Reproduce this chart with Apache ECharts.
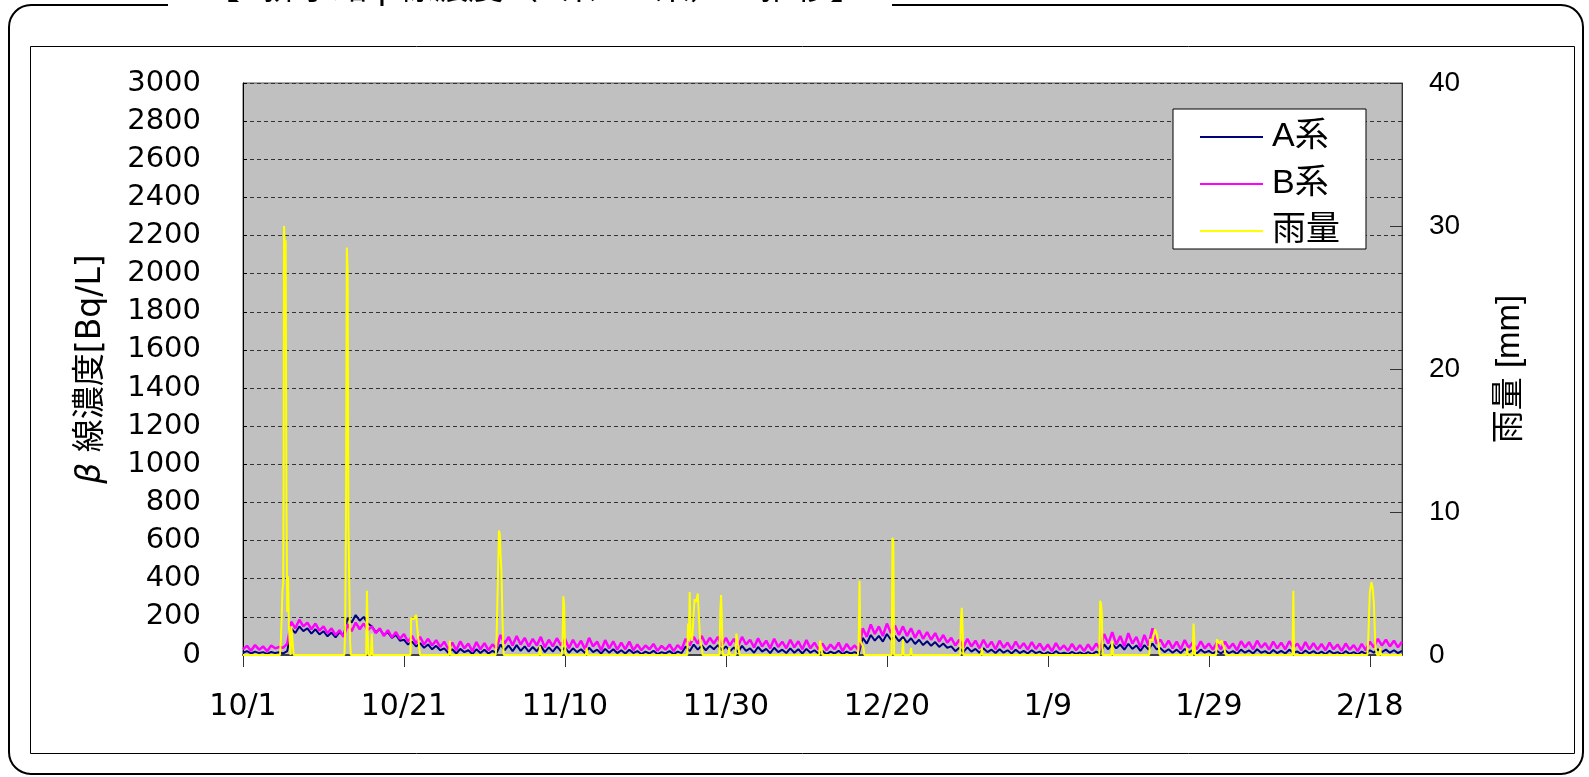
<!DOCTYPE html>
<html>
<head>
<meta charset="utf-8">
<script src="https://cdn.jsdelivr.net/npm/echarts@6/dist/echarts.min.js"></script>
<style>
  html, body { margin: 0; padding: 0; background: #ffffff; }
  #chart { width: 1589px; height: 777px; }
</style>
</head>
<body>
<div id="chart"></div>
<script>
// Day offsets of the x tick labels (days since 10/1) and their text
const tickDays = [0, 20, 40, 60, 80, 100, 120, 140];
const tickLabels = ['10/1', '10/21', '11/10', '11/30', '12/20', '1/9', '1/29', '2/18'];

// Monitor readings every half day from 10/1, Bq/L
const STEP = 0.5;
const seriesA = [
  12, 20, 8, 18, 10, 15, 6, 16, 10, 14,
  8, 20,
  140, 115,
  150, 125, 140, 112, 135, 108, 125, 98, 118, 92,
  120, 100,
  195, 170, 210, 180, 200, 165,
  150, 120, 135, 105, 120, 90, 105, 75,
  80, 55, 70, 45, 62, 38, 55, 30, 48, 25,
  35, 12, 30, 8, 32, 15, 25, 5, 30, 10, 28, 8, 22, 10,
  55, 25, 50, 20, 52, 22, 45, 18, 42, 20, 48, 15, 40, 18, 45, 20,
  40, 12, 35, 15, 30, 10, 38, 15, 28, 8, 32, 12, 30, 10, 25, 8, 28, 10,
  20, 5, 18, 8, 22, 5, 15, 8, 20, 5, 18, 10,
  45, 20, 55, 28, 50, 25, 48, 30, 52, 25,
  45, 20, 40, 15, 48, 22, 35, 12, 42, 18, 32, 10, 38, 15, 28, 10, 35, 12, 30, 8, 32, 12, 25, 8,
  20, 5, 18, 8, 22, 5, 18, 8, 15, 5,
  90, 60, 105, 75, 100, 70,
  110, 80, 100, 72, 95, 65, 88, 58, 80, 52, 72, 48, 68, 42, 60, 38,
  45, 20, 38, 15, 40, 18, 32, 12, 35, 15, 28, 10, 30, 12, 25, 8, 28, 10, 22, 8, 25, 10,
  18, 5, 15, 4, 20, 6, 12, 5, 16, 6, 14, 4, 15, 5, 18, 8,
  55, 30, 60, 35, 55, 28, 58, 32, 50, 22, 52, 28, 60, 30,
  35, 15, 30, 12, 28, 10, 32, 14, 25, 8, 28, 12, 22, 8,
  22, 8, 25, 10, 20, 6, 28, 12, 24, 8, 30, 12, 20, 6, 26, 10, 22, 8, 28, 12,
  18, 5, 24, 8, 20, 6, 18, 5, 22, 8, 15, 4, 20, 6, 15, 4, 18, 6,
  25, 12, 30, 15, 28, 12, 25, 10, 22
];
const seriesB = [
  30, 48, 22, 52, 28, 45, 20, 50, 35, 42,
  38, 60,
  175, 140,
  185, 150, 170, 135, 165, 128, 150, 115, 140, 105,
  130, 95,
  160, 125, 170, 135, 165, 130,
  150, 115, 140, 100, 130, 92, 120, 85,
  110, 70, 100, 60, 95, 55, 85, 50, 78, 42,
  70, 30, 65, 25, 72, 35, 60, 20, 68, 30, 62, 25, 55, 35,
  105, 60, 95, 50, 100, 55, 90, 45, 85, 50, 95, 40, 80, 45, 88, 50,
  85, 35, 80, 40, 75, 30, 90, 45, 70, 25, 78, 35, 72, 28, 65, 30, 70, 25,
  55, 25, 50, 30, 58, 22, 48, 28, 55, 20, 52, 30,
  85, 50, 95, 60, 100, 55, 90, 60, 95, 50,
  90, 50, 85, 45, 95, 55, 80, 40, 88, 45, 75, 35, 85, 42, 70, 35, 80, 40, 72, 30, 78, 35, 65, 30,
  60, 25, 55, 30, 65, 20, 58, 28, 50, 25,
  140, 95, 160, 110, 150, 100,
  165, 115, 155, 105, 150, 100, 140, 90, 130, 85, 120, 80, 115, 70, 105, 65,
  90, 50, 80, 40, 85, 45, 75, 35, 80, 40, 70, 30, 75, 38, 65, 30, 70, 35, 62, 28, 68, 32,
  60, 25, 55, 20, 62, 28, 50, 22, 58, 25, 52, 20, 55, 25, 60, 30,
  110, 60, 120, 55, 100, 45, 115, 60, 95, 40, 105, 50, 140, 60,
  80, 40, 75, 35, 70, 30, 78, 38, 65, 30, 72, 35, 60, 28,
  65, 30, 70, 35, 60, 25, 72, 40, 68, 30, 75, 38, 62, 28, 70, 35, 65, 30, 72, 38,
  60, 25, 68, 30, 62, 28, 58, 25, 65, 30, 55, 22, 60, 28, 52, 20, 58, 25,
  70, 40, 85, 50, 80, 45, 75, 40, 70
];

// Rainfall (mm): day since 10/1 and amount
const rainDay = [
  0, 4.6, 4.7, 4.8, 4.9, 5.0, 5.05, 5.1, 5.2, 5.3, 5.4, 5.5, 5.6, 5.7, 5.8, 5.9, 6.0, 6.2, 6.3,
  12.6, 12.7, 12.8, 12.9, 13.0, 13.1, 13.2, 13.3, 13.4,
  15.3, 15.4, 15.5, 15.6, 15.9, 16.0, 16.1,
  20.8, 20.9, 21.2, 21.5, 21.8, 22.0,
  25.6, 25.7, 25.8,
  31.4, 31.5, 31.7, 31.8, 31.9, 32.0, 32.1, 32.2, 32.3, 32.4,
  36.8, 36.9, 37.0,
  39.6, 39.7, 39.8, 39.9, 40.0, 40.1,
  42.6, 42.7, 42.8,
  55.2, 55.3, 55.4, 55.5, 55.6, 55.8, 56.0, 56.1, 56.3, 56.5, 56.7, 56.8, 57.0, 57.1,
  59.2, 59.3, 59.4, 59.5, 59.6,
  60.3, 60.4, 60.5,
  61.2, 61.3, 61.5, 61.7,
  71.6, 71.7, 71.9, 72.0,
  76.4, 76.5, 76.6, 76.7, 76.9, 77.1, 77.2,
  80.6, 80.7, 80.8, 80.9,
  81.9, 82.0, 82.1,
  82.9, 83.0, 83.1,
  89.1, 89.2, 89.3, 89.4, 89.5,
  91.7, 91.8, 91.9,
  106.4, 106.5, 106.6, 106.7, 106.8,
  107.9, 108.0, 108.1,
  112.6, 112.7, 113.0, 113.3, 113.5, 113.7, 113.9,
  117.2, 117.3, 117.4, 118.0, 118.1, 118.2, 118.3,
  120.9, 121.0, 121.3, 121.6, 121.9, 122.1,
  130.4, 130.5, 130.6,
  139.7, 139.8, 140.0, 140.2, 140.35, 140.5, 140.7, 140.9,
  141.2, 141.3, 141.4,
  144
];
const rainMm = [
  0, 0, 1, 2.5, 4.5, 5, 12, 30, 28.5, 29, 10, 3, 5.5, 2, 1, 0, 2, 2, 0,
  0, 2, 10, 28.5, 27, 9, 5, 1, 0,
  0, 4.5, 1.5, 0, 0, 1.5, 0,
  0, 2.6, 2.5, 2.8, 1, 0,
  0, 1, 0,
  0, 1, 1, 8.7, 8.5, 7, 6, 6, 1, 0,
  0, 0.6, 0,
  0, 0.8, 4.1, 3.5, 0.8, 0,
  0, 0.5, 0,
  0, 2.2, 1, 4.4, 1.5, 1, 1, 3.9, 3.7, 4.3, 4.4, 1, 0.5, 0,
  0, 3, 4.2, 2.5, 0,
  0, 0.5, 0,
  0, 1.5, 1.6, 0,
  0, 1, 1, 0,
  0, 1, 5.2, 1, 1, 0.5, 0,
  0, 8.2, 8, 0,
  0, 1.1, 0,
  0, 0.5, 0,
  0, 2.5, 3.3, 2, 0,
  0, 0.5, 0,
  0, 3.8, 3.6, 3, 0,
  0, 1, 0,
  0, 1.1, 1, 1.8, 1.5, 1, 0,
  0, 0.5, 0, 0, 2.2, 1, 0,
  0, 1.1, 0.8, 1, 0.5, 0,
  0, 4.5, 0,
  0, 1, 4.4, 5.1, 4.7, 3.7, 0.5, 0,
  0, 0.5, 0,
  0
];

const FONT = '"Liberation Sans", "Noto Sans CJK JP", sans-serif';
const WIDE = '"DejaVu Sans", "Noto Sans CJK JP", sans-serif';

const chart = echarts.init(document.getElementById('chart'), null, { renderer: 'canvas' });

const toPairs = (vals) => vals.map((v, i) => [i * STEP, v]);
const rainPairs = rainDay.map((d, i) => [d, rainMm[i]]);

chart.setOption({
  animation: false,
  backgroundColor: '#ffffff',
  textStyle: { fontFamily: FONT },
  graphic: [
    // outer rounded frame
    { type: 'rect', z: -10, silent: true,
      shape: { x: 9, y: 5, width: 1574, height: 769, r: 22 },
      style: { fill: '#ffffff', stroke: '#000000', lineWidth: 2 } },
    // gap in the frame under the heading
    { type: 'rect', z: -9, silent: true,
      shape: { x: 168, y: 0, width: 724, height: 12 },
      style: { fill: '#ffffff' } },
    // heading, sitting on the top edge
    { type: 'text', z: -8, silent: true, left: 205, top: -28,
      style: { text: '【K排水路 β線濃度（A系・B系）の推移】', font: '35px ' + FONT, fill: '#000000' } },
    // inner frame
    { type: 'rect', z: -8, silent: true,
      shape: { x: 30.5, y: 46.5, width: 1544, height: 707 },
      style: { fill: 'none', stroke: '#000000', lineWidth: 1 } }
  ],
  legend: {
    orient: 'vertical',
    left: 1173,
    top: 109,
    backgroundColor: '#ffffff',
    borderColor: '#000000',
    borderWidth: 1,
    padding: [11, 26, 1, 27],
    itemGap: 13,
    itemWidth: 63,
    itemHeight: 2,
    icon: 'rect',
    textStyle: { fontSize: 34, lineHeight: 34, color: '#000000', fontFamily: FONT, padding: [0, 0, 0, 4] },
    data: ['A系', 'B系', '雨量']
  },
  grid: {
    left: 243, top: 83, width: 1159, height: 572,
    show: true, backgroundColor: '#C0C0C0', borderColor: '#555555', borderWidth: 1
  },
  xAxis: {
    type: 'value',
    min: 0, max: 144, interval: 20,
    axisLine: { show: true, onZero: false, lineStyle: { color: '#404040', width: 2 } },
    axisTick: { show: true, length: 12, customValues: tickDays, lineStyle: { color: '#333333', width: 1 } },
    axisLabel: {
      customValues: tickDays,
      margin: 37, fontSize: 30, color: '#000000', fontFamily: WIDE,
      formatter: (v) => tickLabels[tickDays.indexOf(v)] || ''
    },
    splitLine: { show: false }
  },
  yAxis: [
    {
      type: 'value', position: 'left',
      min: 0, max: 3000, interval: 200,
      name: '{i|β} 線濃度[Bq/L]',
      nameLocation: 'middle', nameRotate: 90, nameGap: 135,
      nameTextStyle: { fontSize: 33, color: '#000000', fontFamily: WIDE,
        rich: { i: { fontSize: 33, fontStyle: 'italic', fontFamily: WIDE } } },
      axisLine: { show: true, lineStyle: { color: '#000000', width: 1 } },
      axisTick: { show: true, inside: true, length: 4, lineStyle: { color: '#000000' } },
      axisLabel: { margin: 42, fontSize: 29, color: '#000000', fontFamily: WIDE,
        formatter: (v) => String(v) },
      splitLine: { show: true, lineStyle: { color: '#333333', type: [4, 3], width: 1 } }
    },
    {
      type: 'value', position: 'right',
      min: 0, max: 40, interval: 10,
      name: '雨量 [mm]',
      nameLocation: 'middle', nameRotate: 90, nameGap: 91,
      nameTextStyle: { fontSize: 33, color: '#000000', fontFamily: FONT },
      axisLine: { show: true, lineStyle: { color: '#333333', width: 1 } },
      axisTick: { show: true, inside: true, length: 12, lineStyle: { color: '#333333' } },
      axisLabel: { margin: 27, fontSize: 28, color: '#000000', fontFamily: FONT,
        formatter: (v) => String(v) },
      splitLine: { show: false }
    }
  ],
  series: [
    {
      name: 'A系', type: 'line', yAxisIndex: 0, showSymbol: false, symbol: 'none',
      color: '#000080', lineStyle: { color: '#000080', width: 2 },
      data: toPairs(seriesA), z: 2
    },
    {
      name: 'B系', type: 'line', yAxisIndex: 0, showSymbol: false, symbol: 'none',
      color: '#FF00FF', lineStyle: { color: '#FF00FF', width: 2.5 },
      data: toPairs(seriesB), z: 3
    },
    {
      name: '雨量', type: 'line', yAxisIndex: 1, showSymbol: false, symbol: 'none',
      color: '#FFFF00', lineStyle: { color: '#FFFF00', width: 2 },
      data: rainPairs, z: 4
    }
  ]
});
</script>
</body>
</html>
